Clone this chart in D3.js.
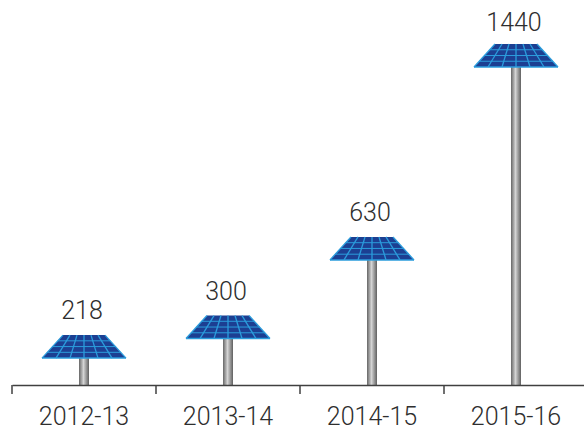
<!DOCTYPE html>
<html>
<head>
<meta charset="utf-8">
<script src="https://cdn.jsdelivr.net/npm/d3@7"></script>
<style>
html, body { margin: 0; padding: 0; background: #fff; }
svg { display: block; }
text { font-family: Roboto, sans-serif; font-weight: 300; fill: #2e2e2e; }
</style>
</head>
<body>
<div id="chart"></div>
<script>
const years = ["2012-13", "2013-14", "2014-15", "2015-16"];
const capacity = [218, 300, 630, 1440];

const width = 584, height = 431;
const axisY = 385;

const svg = d3.select("#chart").append("svg")
    .attr("width", width)
    .attr("height", height);

const x = d3.scaleBand().domain(years).range([12, 588]);
const y = d3.scaleLinear().domain([0, 1440]).range([387, 44]);

// metal look of the poles
const defs = svg.append("defs");
const metal = defs.append("linearGradient").attr("id", "metal");
metal.append("stop").attr("offset", "0%").attr("stop-color", "#666");
metal.append("stop").attr("offset", "45%").attr("stop-color", "#d4d4d4");
metal.append("stop").attr("offset", "100%").attr("stop-color", "#606060");

const panelH = 23, topHalf = 21, bottomHalf = 42;
const cols = 6, rows = 4;

const groups = svg.selectAll("g.unit")
    .data(years.map((d, i) => ({ year: d, value: capacity[i] })))
    .enter().append("g")
    .attr("class", "unit")
    .attr("transform", d => "translate(" + (x(d.year) + x.bandwidth() / 2) + "," + y(d.value) + ")");

// pole
groups.append("rect")
    .attr("x", -5)
    .attr("y", panelH - 1)
    .attr("width", 10)
    .attr("height", d => axisY - y(d.value) - panelH + 1)
    .attr("fill", "url(#metal)");

// panel
groups.append("path")
    .attr("d", "M" + -topHalf + ",0L" + topHalf + ",0L" + bottomHalf + "," + panelH + "L" + -bottomHalf + "," + panelH + "Z")
    .attr("fill", "#1c3f92");

groups.selectAll("line.col")
    .data(d3.range(0, cols + 1))
    .enter().append("line")
    .attr("x1", c => -topHalf + 2 * topHalf * c / cols)
    .attr("x2", c => -bottomHalf + 2 * bottomHalf * c / cols)
    .attr("y1", 0)
    .attr("y2", panelH)
    .attr("stroke", "#2b9cdc")
    .attr("stroke-width", 1.3);

groups.selectAll("line.row")
    .data(d3.range(1, rows + 1))
    .enter().append("line")
    .attr("x1", r => -(topHalf + (bottomHalf - topHalf) * r / rows))
    .attr("x2", r => topHalf + (bottomHalf - topHalf) * r / rows)
    .attr("y1", r => panelH * r / rows)
    .attr("y2", r => panelH * r / rows)
    .attr("stroke", "#2b9cdc")
    .attr("stroke-width", r => r === rows ? 1.6 : 1);

// value labels, kept inside the top of the page
groups.append("text")
    .attr("text-anchor", "middle")
    .attr("x", -2)
    .attr("y", d => Math.max(-16, 31 - y(d.value)))
    .attr("font-size", 25)
    .text(d => d.value);

// axis
const axis = svg.append("g")
    .attr("transform", "translate(0," + axisY + ")")
    .call(d3.axisBottom(x).tickSizeInner(0).tickSizeOuter(0));
axis.select(".domain").attr("stroke", "#404040").attr("stroke-width", 1.5);
axis.selectAll(".tick line").remove();
axis.selectAll(".tick text")
    .attr("y", 40)
    .attr("dy", 0)
    .attr("font-size", 25)
    .style("font-family", "Roboto, sans-serif")
    .attr("fill", "#2e2e2e");

axis.selectAll("line.sep")
    .data(years)
    .enter().append("line")
    .attr("class", "sep")
    .attr("x1", d => x(d))
    .attr("x2", d => x(d))
    .attr("y1", 0)
    .attr("y2", 9)
    .attr("stroke", "#404040")
    .attr("stroke-width", 1.5);
</script>
</body>
</html>
